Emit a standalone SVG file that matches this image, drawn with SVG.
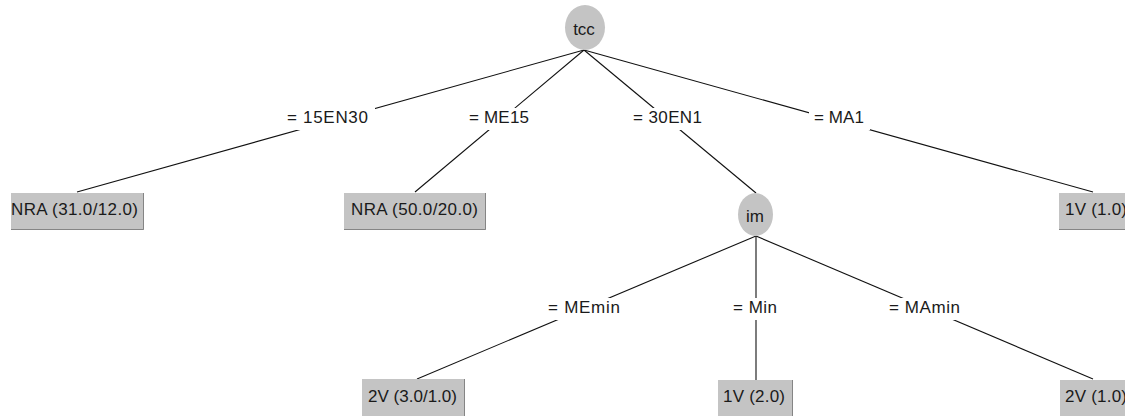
<svg xmlns="http://www.w3.org/2000/svg" width="1125" height="416" viewBox="0 0 1125 416">
  <style>
    .edge { stroke: #111; stroke-width: 1.1; fill: none; }
    .lbl-bg { fill: #fff; }
    .txt { font-family: "Liberation Sans", Arial, sans-serif; font-size: 17px; fill: #1a1a1a; }
    .mid { text-anchor: middle; }
    .split { fill: #c4c4c4; }
    .leaf { fill: #c4c4c4; }
    .shade { stroke: #858585; stroke-width: 1; fill: none; }
  </style>
  <rect width="1125" height="416" fill="#fff"/>

  <!-- connectors with their branch labels -->
  <g id="connectors">
    <line class="edge" x1="584" y1="50" x2="77" y2="192"/>
    <line class="edge" x1="584" y1="50" x2="415" y2="192"/>
    <line class="edge" x1="584" y1="50" x2="756" y2="193"/>
    <line class="edge" x1="584" y1="50" x2="1093" y2="192"/>
    <line class="edge" x1="756" y1="236" x2="417" y2="379"/>
    <line class="edge" x1="756" y1="236" x2="756" y2="380"/>
    <line class="edge" x1="756" y1="236" x2="1093" y2="379"/>

    <rect class="lbl-bg" x="281" y="108" width="94" height="22"/>
    <text class="txt" x="287" y="123" textLength="81" lengthAdjust="spacing">= 15EN30</text>
    <rect class="lbl-bg" x="463" y="108" width="73" height="22"/>
    <text class="txt" x="469" y="123" textLength="60" lengthAdjust="spacing">= ME15</text>
    <rect class="lbl-bg" x="627" y="108" width="82" height="22"/>
    <text class="txt" x="633" y="123" textLength="69" lengthAdjust="spacing">= 30EN1</text>
    <rect class="lbl-bg" x="809" y="108" width="61" height="22"/>
    <text class="txt" x="814" y="123" textLength="50" lengthAdjust="spacing">= MA1</text>

    <rect class="lbl-bg" x="542" y="298" width="85" height="22"/>
    <text class="txt" x="548" y="313" textLength="72" lengthAdjust="spacing">= MEmin</text>
    <rect class="lbl-bg" x="727" y="298" width="57" height="22"/>
    <text class="txt" x="733" y="313" textLength="44" lengthAdjust="spacing">= Min</text>
    <rect class="lbl-bg" x="883" y="298" width="84" height="22"/>
    <text class="txt" x="889" y="313" textLength="71" lengthAdjust="spacing">= MAmin</text>
  </g>

  <!-- split nodes -->
  <g id="node-tcc">
    <ellipse class="split" cx="585" cy="27.5" rx="20" ry="22.5"/>
    <text class="txt mid" x="584" y="35">tcc</text>
  </g>
  <g id="node-im">
    <ellipse class="split" cx="755.5" cy="214.5" rx="17.5" ry="21.5"/>
    <text class="txt mid" x="755" y="222">im</text>
  </g>

  <!-- leaf nodes -->
  <g id="leaf-nra-1">
    <rect class="leaf" x="11" y="193" width="133" height="37"/>
    <polyline class="shade" points="143.5,193 143.5,229.5 11,229.5"/>
    <text class="txt" x="11" y="215" textLength="127" lengthAdjust="spacing">NRA (31.0/12.0)</text>
  </g>
  <g id="leaf-nra-2">
    <rect class="leaf" x="344" y="193" width="142" height="37"/>
    <polyline class="shade" points="485.5,193 485.5,229.5 344,229.5"/>
    <text class="txt" x="351" y="215" textLength="127" lengthAdjust="spacing">NRA (50.0/20.0)</text>
  </g>
  <g id="leaf-1v-top">
    <rect class="leaf" x="1059" y="193" width="76" height="37"/>
    <polyline class="shade" points="1059,229.5 1125,229.5"/>
    <text class="txt" x="1065" y="215" textLength="62" lengthAdjust="spacing">1V (1.0)</text>
  </g>
  <g id="leaf-2v-a">
    <rect class="leaf" x="362" y="379" width="103" height="37"/>
    <polyline class="shade" points="464.5,379 464.5,416"/>
    <text class="txt" x="368" y="402" textLength="89" lengthAdjust="spacing">2V (3.0/1.0)</text>
  </g>
  <g id="leaf-1v-b">
    <rect class="leaf" x="718" y="380" width="75" height="36"/>
    <polyline class="shade" points="792.5,380 792.5,416"/>
    <text class="txt" x="723" y="402" textLength="62" lengthAdjust="spacing">1V (2.0)</text>
  </g>
  <g id="leaf-2v-b">
    <rect class="leaf" x="1060" y="380" width="76" height="36"/>
    <text class="txt" x="1065" y="402" textLength="62" lengthAdjust="spacing">2V (1.0)</text>
  </g>
</svg>
